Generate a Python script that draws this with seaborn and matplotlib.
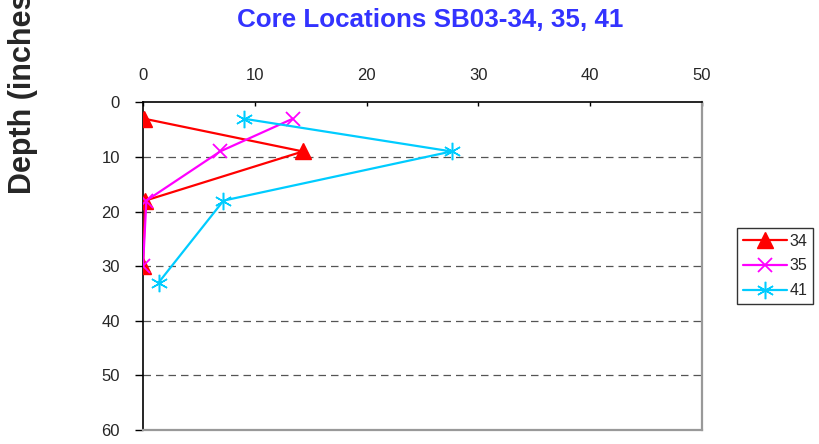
import matplotlib
matplotlib.use('Agg')
import matplotlib.pyplot as plt
import seaborn as sns

# profundidades (inches) e concentrações
depth_34 = [3, 9, 18, 30]
conc_34 = [0.1, 14.3, 0.2, 0.0]
depth_35 = [3, 9, 18, 30]
conc_35 = [13.4, 6.9, 0.3, 0.0]
depth_41 = [3, 9, 18, 33]
conc_41 = [9.0, 27.6, 7.2, 1.4]

x_ticks = [0, 10, 20, 30, 40, 50]
y_ticks = [0, 10, 20, 30, 40, 50, 60]

sns.set_style('white')
plt.rcParams['font.family'] = ['Liberation Sans', 'DejaVu Sans']

fig = plt.figure(figsize=(8.19, 4.44), dpi=100)
ax = fig.add_axes([143 / 819, 14 / 444, 559 / 819, 327.7 / 444])

series = [
    ('34', conc_34, depth_34, '#ff0000', '^', 12, 1.0),
    ('35', conc_35, depth_35, '#ff00ff', 'x', 10.5, 1.3),
    ('41', conc_41, depth_41, '#00ccff', (6, 2, 0), 12.5, 1.1),
]
for lab, xs, ys, col, mk, ms, mew in series:
    sns.lineplot(x=xs, y=ys, ax=ax, sort=False, estimator=None, color=col,
                 marker=mk, markersize=ms, mec=col, mew=mew, lw=1.6,
                 label=lab, zorder=3)

ax.set_xlim(0, 50)
ax.set_ylim(60, 0)
ax.set_xticks(x_ticks)
ax.set_yticks(y_ticks)
ax.xaxis.tick_top()
ax.set_xlabel('')
ax.set_ylabel('')
ax.tick_params(axis='x', direction='in', length=3, width=1, pad=14,
               labelsize=12, top=True, bottom=False, color='black')
ax.tick_params(axis='y', direction='out', length=5.5, width=1, pad=11,
               labelsize=12, left=True, color='black')

for y in y_ticks[1:-1]:
    ax.axhline(y, color='#555555', lw=0.9, ls=(0, (6, 4)), zorder=1)

ax.spines['left'].set_color('black')
ax.spines['top'].set_color('black')
ax.spines['left'].set_linewidth(1.2)
ax.spines['top'].set_linewidth(1.2)
ax.spines['right'].set_color('#999999')
ax.spines['bottom'].set_color('#999999')
ax.spines['right'].set_linewidth(1.6)
ax.spines['bottom'].set_linewidth(1.6)

leg = ax.legend(loc='upper left', bbox_to_anchor=(737 / 819, 1 - 228 / 444),
                bbox_transform=fig.transFigure, frameon=True, fancybox=False,
                edgecolor='black', fontsize=11.5, handlelength=2.8,
                handletextpad=0.15, borderpad=0.35, labelspacing=0.62,
                borderaxespad=0)
leg.get_frame().set_linewidth(1.0)

fig.text(430 / 819, 1 - 27.3 / 444, 'Core Locations SB03-34, 35, 41',
         ha='center', va='baseline', fontsize=18.7, fontweight='bold',
         color='#3333ff')
# no original o título do eixo sai cortado na borda de cima
fig.text(23 / 819, 1 - 194 / 444, 'Depth (inches)', rotation=90,
         ha='center', va='bottom', fontsize=22, fontweight='bold')

fig.savefig('out.png', dpi=100)
